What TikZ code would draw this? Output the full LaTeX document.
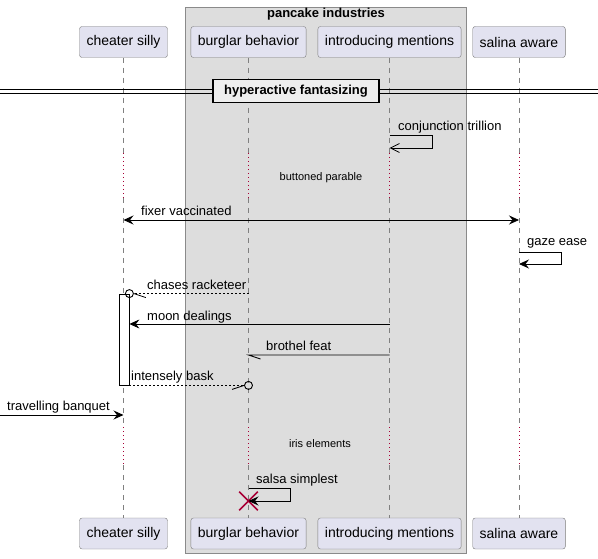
\documentclass[tikz,border=0pt]{standalone}
\usepackage{fontspec}
\setmainfont{Liberation Sans}
\usetikzlibrary{arrows.meta,positioning,shapes.misc}

\definecolor{partfill}{HTML}{E2E2F0}
\definecolor{partline}{HTML}{7A7A7A}
\definecolor{groupfill}{HTML}{DDDDDD}
\definecolor{groupline}{HTML}{8A8A8A}
\definecolor{delayred}{HTML}{A80036}
\definecolor{divfill}{HTML}{EEEEEE}

\tikzset{
  part/.style={draw=partline, fill=partfill, rounded corners=2.5pt,
    minimum height=31pt, inner xsep=7pt, font=\fontsize{14}{16}\selectfont},
  life/.style={draw=gray, line width=0.6pt, dash pattern=on 5pt off 5pt},
  delayline/.style={draw=delayred, line width=1pt, dash pattern=on 1pt off 3pt},
  msg/.style={line width=0.8pt},
  reply/.style={line width=0.7pt, dash pattern=on 2pt off 2pt},
  tip/.style={-{Stealth[length=10pt,width=9pt,inset=3.5pt]}},
  opentip/.style={-{Straight Barb[length=9pt,width=9pt]}},
  lbl/.style={inner sep=0pt, font=\fontsize{13}{15}\selectfont},
  delaylbl/.style={inner sep=0pt, font=\fontsize{11}{13}\selectfont},
  endcirc/.style={circle, draw, line width=0.9pt, fill=none, minimum size=8pt, inner sep=0pt},
  actbar/.style={draw, fill=white, line width=0.8pt, minimum width=10pt, minimum height=91pt, inner sep=0pt},
  destroy/.style={cross out, draw=delayred, line width=1.6pt, minimum size=17pt, inner sep=0pt}
}

\begin{document}
\begin{tikzpicture}[x=1pt, y=-1pt]
\useasboundingbox (0,0) rectangle (598,559);

% box round the middle participants
\fill[groupfill] (185,7) rectangle (466,553);
\draw[groupline] (185,7) rectangle (466,553);
\node[inner sep=0pt, font=\fontsize{13}{15}\selectfont\bfseries] (pi) at (326,14) {pancake industries};

\node[part] (cs) at (123.5,42) {cheater silly};
\node[part] (bb) at (248.5,42) {burglar behavior};
\node[part] (im) at (389.5,42) {introducing mentions};
\node[part] (sa) at (519,42) {salina aware};

\node[part] (cs-b) at (123.5,533.5) {cheater silly};
\node[part] (bb-b) at (248.5,533.5) {burglar behavior};
\node[part] (im-b) at (389.5,533.5) {introducing mentions};
\node[part] (sa-b) at (519,533.5) {salina aware};

% lifelines, dotted where the delays are
\foreach \p in {cs,bb,im,sa} {
  \draw[life] (\p.south) -- (\p |- 0,153);
  \draw[delayline] (\p |- 0,153) -- (\p |- 0,198);
  \draw[life] (\p |- 0,198) -- (\p |- 0,427);
  \draw[delayline] (\p |- 0,427) -- (\p |- 0,465);
  \draw[life] (\p |- 0,465) -- (\p-b.north);
}

% divider
\draw[line width=0.8pt] (0,89) -- (598,89);
\draw[line width=0.8pt] (0,93) -- (598,93);
\node[draw, fill=divfill, line width=1.6pt, minimum width=166pt, minimum height=23pt,
  inner sep=0pt, font=\fontsize{13}{15}\selectfont\bfseries] (hf) at (296,91) {hyperactive fantasizing};

\draw[msg, opentip] (im |- 0,135) -- ++(43,0) -- ++(0,13) -- (im |- 0,148);
\node[lbl, anchor=base west] (l-ct) at (398,131) {conjunction trillion};

\node[delaylbl] (d-bp) at (321,178) {buttoned parable};

\draw[msg, {Stealth[length=10pt,width=9pt,inset=3.5pt]}-{Stealth[length=10pt,width=9pt,inset=3.5pt]}] (cs |- 0,220) -- (sa |- 0,220);
\node[lbl, anchor=base west] (l-fv) at (141,216) {fixer vaccinated};

\draw[msg, tip] (sa |- 0,252) -- ++(42,0) -- ++(0,12) -- (sa |- 0,264);
\node[lbl, anchor=base west] (l-ge) at (527,246) {gaze ease};

\node[actbar] (act) at (124,339.5) {};

\node[endcirc] (c-cr) at (act.north east) {};
\draw[reply] (bb |- c-cr) -- (c-cr.east);
\draw[msg] (c-cr.east) -- ++(12,4);
\node[lbl, anchor=base west] (l-cr) at (147,290) {chases racketeer};

\draw[msg, tip] (im |- 0,324) -- (act.east |- 0,324);
\node[lbl, anchor=base west] (l-md) at (147,320) {moon dealings};

\draw[msg] (im |- 0,355) -- (bb |- 0,355) -- ++(12,4);
\node[lbl, anchor=base west] (l-bf) at (266,350) {brothel feat};

\node[endcirc] (c-ib) at (bb |- act.south) {};
\draw[reply] (act.south east) -- (c-ib.west);
\draw[msg] (c-ib.west) -- ++(-12,4);
\node[lbl, anchor=base west] (l-ib) at (131,381) {intensely bask};

\coordinate (edge) at (0,415);
\draw[msg, tip] (edge) -- (cs |- edge);
\node[lbl, anchor=base west] (l-tb) at (7,410) {travelling banquet};

\node[delaylbl] (d-ie) at (320,444) {iris elements};

\node[destroy] (x) at (bb |- 0,501) {};
\draw[msg, tip] (bb |- 0,488) -- ++(42,0) -- ++(0,13) -- (x.center);
\node[lbl, anchor=base west] (l-ss) at (256,483) {salsa simplest};

\end{tikzpicture}
\end{document}
